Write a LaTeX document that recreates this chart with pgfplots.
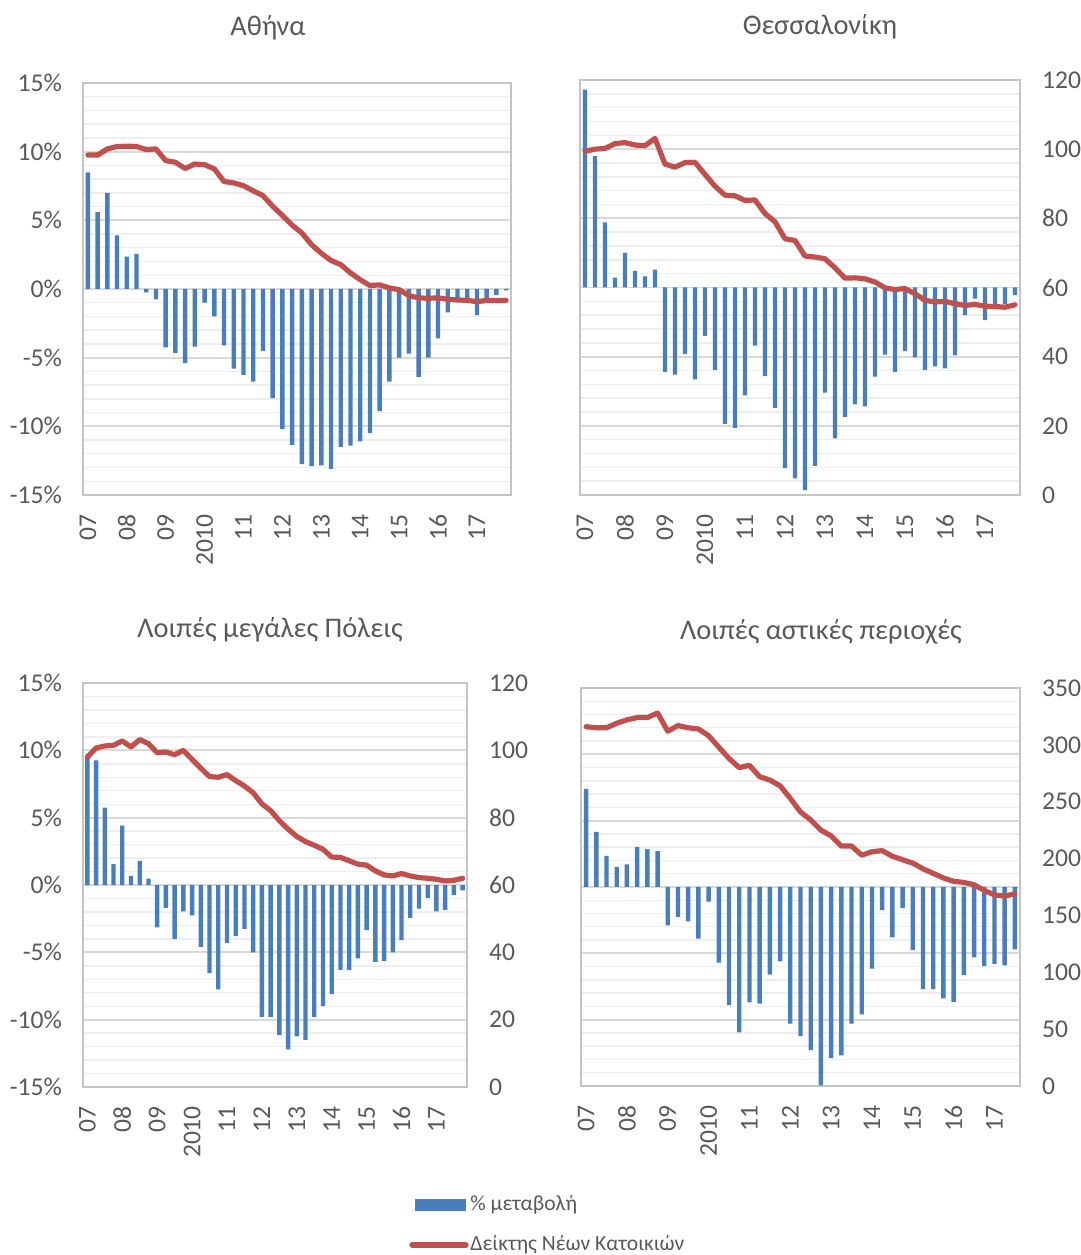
\documentclass[border=0pt]{standalone}
\usepackage{fontspec}
\setmainfont{Carlito}
\usepackage{pgfplots}
\usepackage{pgfplotstable}
\pgfplotsset{compat=1.18}

\definecolor{barblue}{HTML}{4A7EBB}
\definecolor{linered}{HTML}{C0504D}
\definecolor{txtgray}{HTML}{595959}
\definecolor{gridmaj}{HTML}{D9D9D9}
\definecolor{gridmin}{HTML}{EEEEEE}
\definecolor{framegray}{HTML}{C4C4C4}

% q = quarter (0 = 2007Q1), pct = % change, idx = index of new dwellings
\pgfplotstableread{
q pct idx
0 8.5 99.0
1 5.6 99.0
2 7.0 100.8
3 3.9 101.5
4 2.35 101.6
5 2.55 101.5
6 -0.25 100.6
7 -0.75 100.8
8 -4.25 97.4
9 -4.65 96.9
10 -5.4 95.1
11 -4.2 96.4
12 -1.0 96.2
13 -2.0 95.0
14 -4.1 91.3
15 -5.8 90.9
16 -6.25 90.1
17 -6.75 88.6
18 -4.5 87.2
19 -7.95 84.1
20 -10.2 81.4
21 -11.35 78.6
22 -12.75 76.3
23 -12.9 72.9
24 -12.85 70.4
25 -13.1 68.3
26 -11.5 67.1
27 -11.4 64.7
28 -11.1 62.7
29 -10.5 61.0
30 -8.9 61.2
31 -6.75 60.3
32 -5.0 59.8
33 -4.7 58.1
34 -6.4 57.4
35 -5.0 57.3
36 -3.6 57.4
37 -1.7 57.0
38 -0.8 56.8
39 -0.8 56.7
40 -1.9 56.3
41 -0.8 56.7
42 -0.45 56.6
43 -0.1 56.7
}\athtab

\pgfplotstableread{
q pct idx
0 14.3 99.4
1 9.5 100.0
2 4.7 100.2
3 0.72 101.6
4 2.5 101.9
5 1.2 101.2
6 0.8 101.0
7 1.3 103.1
8 -6.1 95.7
9 -6.3 94.8
10 -4.8 96.1
11 -6.65 96.2
12 -3.5 92.7
13 -5.95 89.3
14 -9.85 86.7
15 -10.15 86.5
16 -7.8 85.2
17 -4.2 85.3
18 -6.4 81.4
19 -8.7 79.0
20 -13.05 74.1
21 -13.8 73.6
22 -14.65 69.1
23 -12.9 68.8
24 -7.6 68.3
25 -10.9 65.7
26 -9.35 62.7
27 -8.45 62.8
28 -8.6 62.5
29 -6.45 61.6
30 -4.85 59.9
31 -6.1 59.4
32 -4.6 59.7
33 -5.05 58.2
34 -5.95 56.3
35 -5.7 55.8
36 -5.85 56.0
37 -4.9 55.3
38 -2.0 54.8
39 -0.8 55.1
40 -2.35 54.6
41 -1.2 54.5
42 -1.2 54.3
43 -0.55 55.0
}\thesstab

\pgfplotstableread{
q pct idx
0 9.6 98.0
1 9.25 100.7
2 5.75 101.3
3 1.55 101.5
4 4.4 102.8
5 0.67 101.0
6 1.8 103.2
7 0.47 102.0
8 -3.15 99.3
9 -1.7 99.5
10 -4.0 98.7
11 -1.95 100.0
12 -2.25 97.3
13 -4.6 94.7
14 -6.55 92.2
15 -7.75 92.0
16 -4.3 92.8
17 -3.8 91.0
18 -3.25 89.4
19 -5.0 87.4
20 -9.8 84.1
21 -9.8 82.1
22 -11.15 79.1
23 -12.2 76.6
24 -11.25 74.4
25 -11.5 72.9
26 -9.8 71.8
27 -9.0 70.6
28 -8.1 68.3
29 -6.3 68.2
30 -6.3 67.2
31 -5.45 66.2
32 -3.35 65.9
33 -5.7 64.2
34 -5.65 63.0
35 -5.0 62.7
36 -4.1 63.4
37 -2.45 62.7
38 -1.75 62.2
39 -0.95 62.0
40 -1.95 61.7
41 -1.85 61.2
42 -0.75 61.4
43 -0.4 62.0
}\othtab

\pgfplotstableread{
q pct idx
0 7.4 316
1 4.15 315
2 2.35 315
3 1.5 319
4 1.7 322
5 3.0 324
6 2.85 324
7 2.7 328
8 -2.9 312
9 -2.25 317
10 -2.6 315
11 -3.9 314
12 -1.1 308
13 -5.7 298
14 -8.9 288
15 -10.95 280
16 -8.7 282
17 -8.8 272
18 -6.6 269
19 -5.6 264
20 -10.3 253
21 -11.25 241
22 -12.3 234
23 -14.95 225
24 -12.9 220
25 -12.7 211
26 -10.3 211
27 -9.6 203
28 -6.15 206
29 -1.75 207
30 -3.8 202
31 -1.6 199
32 -4.75 196
33 -7.7 191
34 -7.7 187
35 -8.4 183
36 -8.65 180
37 -6.65 179
38 -5.3 177
39 -5.95 172
40 -5.8 168
41 -5.9 167
42 -4.7 169
}\urbtab

\pgfplotsset{
  panel/.style={scale only axis, anchor=south west,
    xmin=-0.5, xmax=43.5, major tick length=0, minor tick length=0,
    tick label style={text=txtgray, font=\fontsize{12.8}{14}\selectfont}},
  baraxis/.style={panel,
    ymin=-15, ymax=15, ytick={-15,-10,...,15},
    yticklabels={-15\%,-10\%,-5\%,0\%,5\%,10\%,15\%},
    minor y tick num=4, ymajorgrids, yminorgrids,
    major grid style={gridmaj, line width=0.9pt},
    minor grid style={gridmin, line width=0.7pt},
    axis line style={framegray, line width=0.9pt},
    xtick={0,4,...,40},
    xticklabels={07,08,09,2010,11,12,13,14,15,16,17},
    xticklabel style={rotate=90, anchor=east, xshift=-6pt},
    yticklabel style={xshift=-7pt}},
  lineaxis/.style={panel, axis x line=none, axis y line*=right,
    ymin=0, ymax=120, ytick={0,20,...,120},
    yticklabels={0,20,40,60,80,100,120},
    axis line style={framegray, line width=0.9pt},
    yticklabel style={xshift=7.5pt}},
  bars/.style={ybar, bar width=2.2pt, fill=barblue, draw=none},
  idxline/.style={linered, line width=2.6pt, line join=round, line cap=round, no marks},
}

\begin{document}
\begin{tikzpicture}
\useasboundingbox (0,0) rectangle (540.5pt,627.5pt);

% Athens
\begin{axis}[baraxis, at={(41.5pt,380pt)}, width=214pt, height=206pt]
\addplot[bars] table[x=q,y=pct]{\athtab};
\end{axis}
\begin{axis}[lineaxis, at={(41.5pt,380pt)}, width=214pt, height=206pt, yticklabels={}]
\addplot[idxline] table[x=q,y=idx]{\athtab};
\end{axis}

% Thessaloniki
\begin{axis}[baraxis, at={(290pt,380pt)}, width=220pt, height=207.5pt, yticklabels={}]
\addplot[bars] table[x=q,y=pct]{\thesstab};
\end{axis}
\begin{axis}[lineaxis, at={(290pt,380pt)}, width=220pt, height=207.5pt]
\addplot[idxline] table[x=q,y=idx]{\thesstab};
\end{axis}

% Other large cities
\begin{axis}[baraxis, at={(41.5pt,84pt)}, width=192pt, height=202pt]
\addplot[bars] table[x=q,y=pct]{\othtab};
\end{axis}
\begin{axis}[lineaxis, at={(41.5pt,84pt)}, width=192pt, height=202pt]
\addplot[idxline] table[x=q,y=idx]{\othtab};
\end{axis}

% Other urban areas
\begin{axis}[baraxis, at={(290.5pt,84.5pt)}, width=219.5pt, height=199pt,
  xmax=42.5, yticklabels={}]
\addplot[bars] table[x=q,y=pct]{\urbtab};
\end{axis}
\begin{axis}[lineaxis, at={(290.5pt,84.5pt)}, width=219.5pt, height=199pt,
  xmax=42.5, ymax=350, ytick={0,50,...,350},
  yticklabels={0,50,100,150,200,250,300,350}]
\addplot[idxline] table[x=q,y=idx]{\urbtab};
\end{axis}

% titles
\begin{scope}[every node/.style={text=txtgray, font=\fontsize{14.2}{16}\selectfont}]
\node at (134pt,613.5pt) {Αθήνα};
\node at (410pt,614pt) {Θεσσαλονίκη};
\node at (135pt,312.5pt) {Λοιπές μεγάλες Πόλεις};
\node at (410.5pt,311.5pt) {Λοιπές αστικές περιοχές};
\end{scope}

% legend
\fill[barblue] (207.5pt,22pt) rectangle (233pt,28pt);
\node[anchor=west, text=txtgray, font=\fontsize{10.8}{12}\selectfont, inner sep=1pt] at (234pt,25pt) {\% μεταβολή};
\draw[linered, line width=2.6pt, line cap=round] (206pt,5pt) -- (233pt,5pt);
\node[anchor=west, text=txtgray, font=\fontsize{10.8}{12}\selectfont, inner sep=1pt] at (234pt,5pt) {Δείκτης Νέων Κατοικιών};
\end{tikzpicture}
\end{document}
